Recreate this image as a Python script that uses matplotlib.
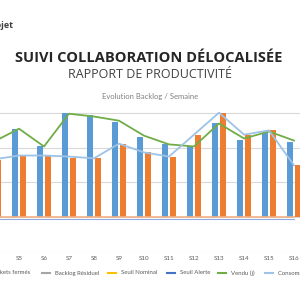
import matplotlib.pyplot as plt
from matplotlib.lines import Line2D
import numpy as np

# semaines visibles (la diapo est coupée à gauche)
semaines = ['S4', 'S5', 'S6', 'S7', 'S8', 'S9', 'S10', 'S11', 'S12', 'S13', 'S14', 'S15', 'S16']
tickets_ouverts = [3.17, 3.54, 3.03, 4.0, 3.94, 3.74, 3.31, 3.09, 3.03, 3.69, 3.23, 3.46, 3.17]
tickets_fermes = [2.63, 2.77, 2.77, 2.71, 2.69, 3.11, 2.86, 2.74, 3.37, 4.0, 3.37, 3.49, 2.49]
vendu = [3.17, 3.54, 3.03, 3.97, 3.89, 3.77, 3.34, 3.09, 3.03, 3.69, 3.26, 3.46, 3.2]
consomme = [2.66, 2.77, 2.77, 2.74, 2.69, 3.11, 2.86, 2.74, 3.37, 4.0, 3.37, 3.49, 2.49]
base = 1.0
seuil_nominal = [1.0] * len(semaines)
seuil_alerte = [0.96] * len(semaines)

bleu = '#5b9bd5'
orange = '#ed7d31'
vert = '#70ad47'
bleu_clair = '#9dc3e6'

fig = plt.figure(figsize=(3, 3), dpi=100)
fig.patch.set_facecolor('white')

ax = fig.add_axes([0, 0.16, 1, 0.4667])
x = np.arange(4, 4 + len(semaines))

ax.bar(x - 0.16, np.array(tickets_ouverts) - base, bottom=base, width=0.24, color=bleu, zorder=2)
ax.bar(x + 0.16, np.array(tickets_fermes) - base, bottom=base, width=0.24, color=orange, zorder=2)
ax.plot(x, seuil_nominal, color='#f4b183', lw=1.2, zorder=3)
ax.plot(x, seuil_alerte, color='#8faadc', lw=0.8, zorder=3)
ax.plot(x, vendu, color=vert, lw=1.3, zorder=4)
ax.plot(x, consomme, color=bleu_clair, lw=1.3, zorder=4)

ax.set_xlim(4.24, 16.24)
ax.set_ylim(0, 4.02)
ax.set_yticks([0, 1, 2, 3, 4])
ax.yaxis.grid(True, color='#d9d9d9', lw=0.8, zorder=0)
ax.set_axisbelow(True)
for s in ax.spines.values():
    s.set_visible(False)
ax.tick_params(left=False, labelleft=False, bottom=False, length=0, pad=3)
# S4 tombe hors cadre : pas d'étiquette
ax.set_xticks(x[1:])
ax.set_xticklabels(semaines[1:], fontsize=4.5, color='#595959', family='Lato')

fig.text(13 / 300, 1 - 25 / 300, 'Projet', ha='right', va='center', fontsize=6.5,
         fontweight='bold', color='#404040', family='Open Sans')
fig.text(0.497, 1 - 58 / 300, 'SUIVI COLLABORATION DÉLOCALISÉE', ha='center', va='center',
         fontsize=10.5, fontweight='bold', color='#262626', family='Open Sans')
fig.text(0.5, 1 - 74 / 300, 'RAPPORT DE PRODUCTIVITÉ', ha='center', va='center',
         fontsize=9, color='#404040', family='Open Sans')
fig.text(0.5, 1 - 97 / 300, 'Evolution Backlog / Semaine', ha='center', va='center',
         fontsize=5.5, color='#808080', family='Lato')

# légende posée à la main
ly = 1 - 273 / 300
fig.text(30 / 300, ly, 'Tickets fermés', ha='right', va='center', fontsize=4.3, color='#595959', family='Lato')
items = [(42, '#a5a5a5', 'Backlog Résiduel'),
         (108, '#ffc000', 'Seuil Nominal'),
         (167, '#4472c4', 'Seuil Alerte'),
         (218, vert, 'Vendu (j)'),
         (265, bleu_clair, 'Consommé (j)')]
for px, c, lab in items:
    fig.add_artist(Line2D([px / 300, (px + 8) / 300], [ly, ly], color=c, lw=1.5))
    fig.text((px + 13) / 300, ly, lab, ha='left', va='center', fontsize=4.3, color='#595959', family='Lato')

fig.savefig('out.png', dpi=100)
